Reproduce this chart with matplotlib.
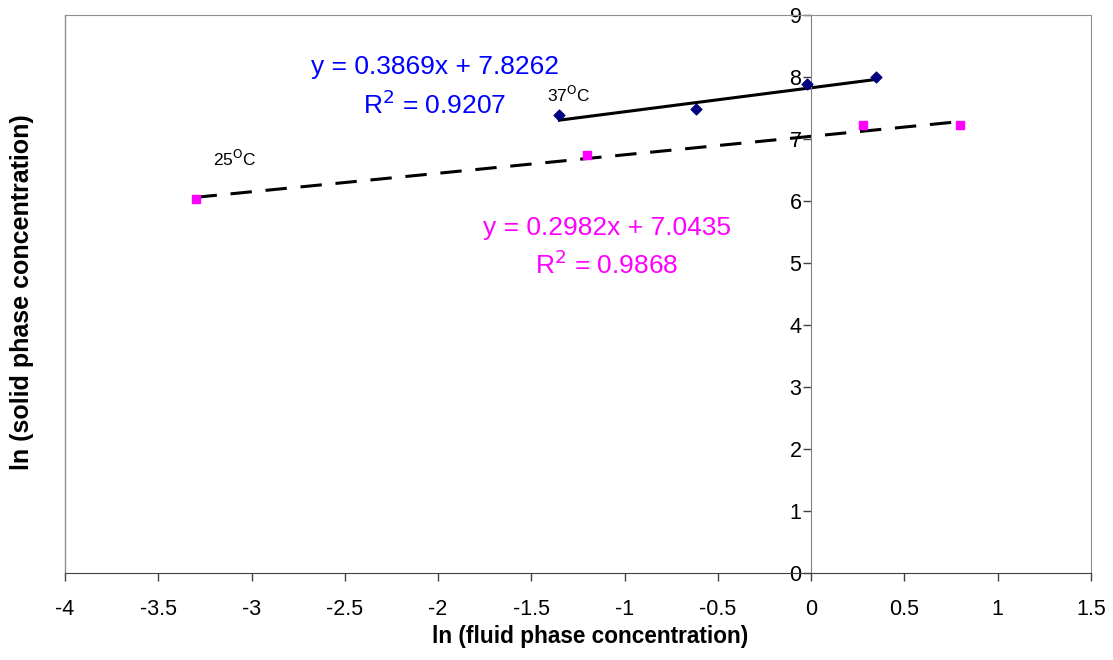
import matplotlib
matplotlib.use("Agg")
import matplotlib.pyplot as plt
import numpy as np

plt.rcParams['font.family'] = ['Liberation Sans', 'DejaVu Sans']

# 37 C series (navy diamonds)
x37 = [-1.35, -0.62, -0.02, 0.35]
y37 = [7.38, 7.48, 7.89, 8.00]
fit37 = (0.3869, 7.8262)

# 25 C series (magenta squares)
x25 = [-3.30, -1.20, 0.28, 0.80]
y25 = [6.04, 6.75, 7.22, 7.22]
fit25 = (0.2982, 7.0435)

xticks = [-4, -3.5, -3, -2.5, -2, -1.5, -1, -0.5, 0, 0.5, 1, 1.5]
yticks = list(range(0, 10))

fig = plt.figure(figsize=(11.13, 6.6), dpi=100)
ax = fig.add_axes([65 / 1113, 87 / 660, 1026 / 1113, 558 / 660])

ax.set_xlim(-4, 1.5)
ax.set_ylim(0, 9)

# trend lines
xs = np.array([min(x37), max(x37)])
ax.plot(xs, fit37[0] * xs + fit37[1], color='black', lw=2.2, zorder=2)
xs = np.array([min(x25), max(x25)])
ax.plot(xs, fit25[0] * xs + fit25[1], color='black', lw=2.2,
        dashes=(7, 4.5), zorder=2)

ax.scatter(x37, y37, marker='D', s=30, color='#000080', zorder=3)
ax.scatter(x25, y25, marker='s', s=38, color='#FF00FF', zorder=3)

# axes styling
ax.spines['left'].set_position(('data', 0))
ax.spines['left'].set_color('#808080')
ax.spines['bottom'].set_color('#404040')
for s in ['top', 'right']:
    ax.spines[s].set_color('#909090')
ax.plot([0, 0], [0, 1], transform=ax.transAxes, color='#909090', lw=1, clip_on=False)

ax.set_xticks(xticks)
ax.set_xticklabels([f"{t:g}" for t in xticks])
ax.set_yticks(yticks)
ax.tick_params(axis='both', direction='out', length=6, width=1, color='#404040',
               labelsize=15.5)
ax.tick_params(axis='x', pad=13)
ax.tick_params(axis='y', pad=1)

fig.text(590 / 1113, 1 - 637 / 660, 'ln (fluid phase concentration)',
         fontsize=16.3, fontweight='bold', ha='center', va='center')
fig.text(22 / 1113, 1 - 292 / 660, 'ln (solid phase concentration)', rotation=90,
         fontsize=18, fontweight='bold', ha='center', va='center')

# equations (one text per line)
ax.text(-2.016, 8.16, 'y = 0.3869x + 7.8262', color='#0000FF',
        fontsize=19, ha='center', va='center')
ax.text(-2.016, 7.56, 'R$^2$ = 0.9207', color='#0000FF',
        fontsize=19, ha='center', va='center')
ax.text(-1.094, 5.57, 'y = 0.2982x + 7.0435', color='#FF00FF',
        fontsize=19, ha='center', va='center')
ax.text(-1.094, 4.97, 'R$^2$ = 0.9868', color='#FF00FF',
        fontsize=19, ha='center', va='center')

ax.text(-1.30, 7.71, '37$^{\\mathrm{O}}$C', fontsize=12.5, ha='center', va='center')
ax.text(-3.09, 6.68, '25$^{\\mathrm{O}}$C', fontsize=12.5, ha='center', va='center')

fig.savefig('out.png', dpi=100)
